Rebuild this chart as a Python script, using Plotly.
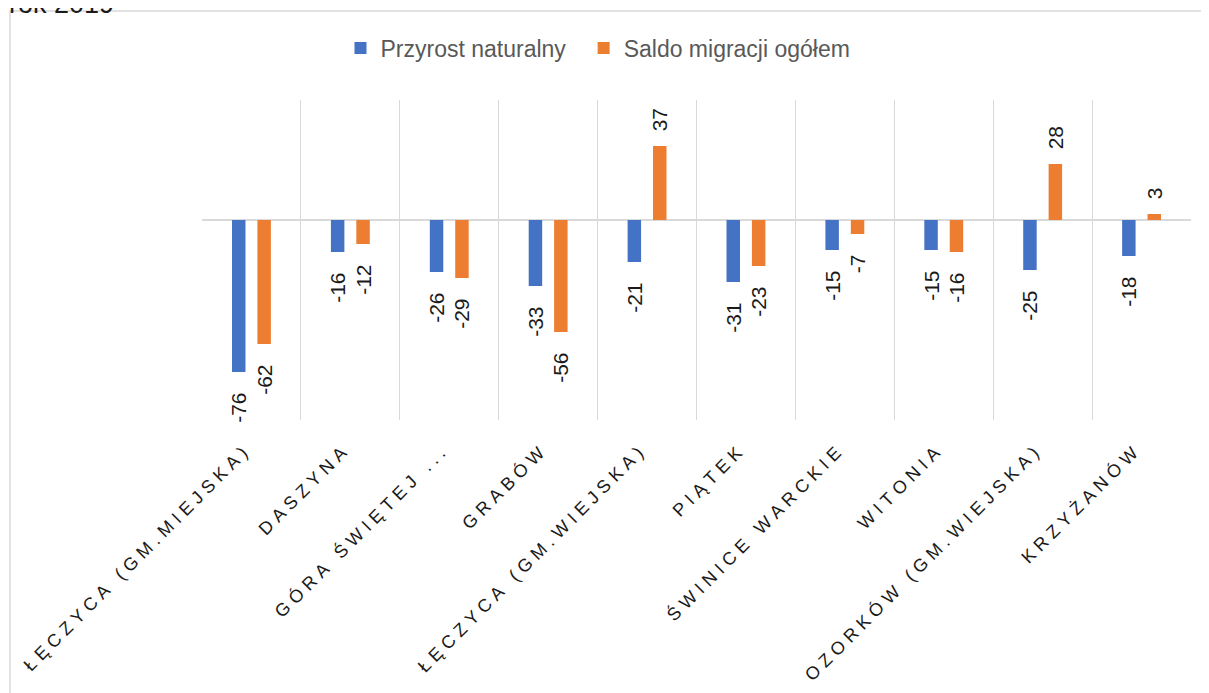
import plotly.graph_objects as go

title_text = "rok 2019"
categories = [
    "ŁĘCZYCA (GM.MIEJSKA)",
    "DASZYNA",
    "GÓRA ŚWIĘTEJ ...",
    "GRABÓW",
    "ŁĘCZYCA (GM.WIEJSKA)",
    "PIĄTEK",
    "ŚWINICE WARCKIE",
    "WITONIA",
    "OZORKÓW (GM.WIEJSKA)",
    "KRZYŻANÓW",
]
series_names = ["Przyrost naturalny", "Saldo migracji ogółem"]
przyrost = [-76, -16, -26, -33, -21, -31, -15, -15, -25, -18]
saldo = [-62, -12, -29, -56, 37, -23, -7, -16, 28, 3]
colors = ["#4472C4", "#ED7D31"]

SP = "\u2009\u200a"
NB = "\u00a0"


def spaced(s):
    return SP.join(list(s))


def lab(v):
    return f"{v}{NB*3}" if v < 0 else f"{NB*2}{v}"


tick_labels = [spaced(c) for c in categories]
legend_names = [series_names[0] + NB * 2, series_names[1]]

fig = go.Figure()
for name, vals, col in zip(legend_names, [przyrost, saldo], colors):
    fig.add_trace(go.Bar(
        x=tick_labels, y=vals, name=name,
        marker=dict(color=col, line=dict(width=0)),
        text=[lab(v) for v in vals],
        textposition="outside", textangle=-90,
        constraintext="none", cliponaxis=False,
        textfont=dict(family="Arial, Liberation Sans", size=21, color="#1a1a1a"),
    ))

# page has an 8px body margin: figure pixel = screen pixel - 8
OFF = 8
W, H = 1209 - OFF, 693 - OFF
L, R, T, B = 202 - OFF, 18, 100 - OFF, 693 - 420
pw, ph = W - L - R, H - T - B


def px_x(p):
    return (p - OFF - L) / pw


def px_y(p):
    return (H - B - (p - OFF)) / ph


fig.update_layout(
    width=W, height=H,
    margin=dict(l=L, r=R, t=T, b=B, autoexpand=False),
    paper_bgcolor="white", plot_bgcolor="white",
    barmode="group", bargap=0.486, bargroupgap=0.47,
    font=dict(family="Arial, Liberation Sans", color="#595959"),
    showlegend=True,
    legend=dict(
        orientation="h", x=px_x(598), xanchor="center",
        y=px_y(48), yanchor="middle",
        font=dict(size=23, color="#595959"),
        itemwidth=30, traceorder="normal",
    ),
    xaxis=dict(
        type="category", tickson="boundaries", showgrid=True,
        gridcolor="#d9d9d9", gridwidth=1, ticks="", showline=False,
        tickangle=-45, ticklabelstandoff=18, ticklabelshift=-9,
        tickfont=dict(size=18, color="#1a1a1a"),
        zeroline=False,
    ),
    yaxis=dict(
        range=[-100, 60], showticklabels=False, showgrid=False,
        zeroline=True, zerolinecolor="#d9d9d9", zerolinewidth=1.5,
        ticks="", showline=False,
    ),
    annotations=[dict(
        text=title_text, xref="paper", yref="paper",
        x=px_x(7), xanchor="left", y=px_y(4), yanchor="middle",
        showarrow=False, font=dict(size=27, color="#1a1a1a"),
    )],
    shapes=[dict(
        type="rect", xref="paper", yref="paper",
        x0=px_x(10), x1=px_x(1230), y0=px_y(720), y1=px_y(11),
        line=dict(color="#d9d9d9", width=1.5), fillcolor="rgba(0,0,0,0)",
        layer="below",
    )],
)

fig.write_html("out.html")
